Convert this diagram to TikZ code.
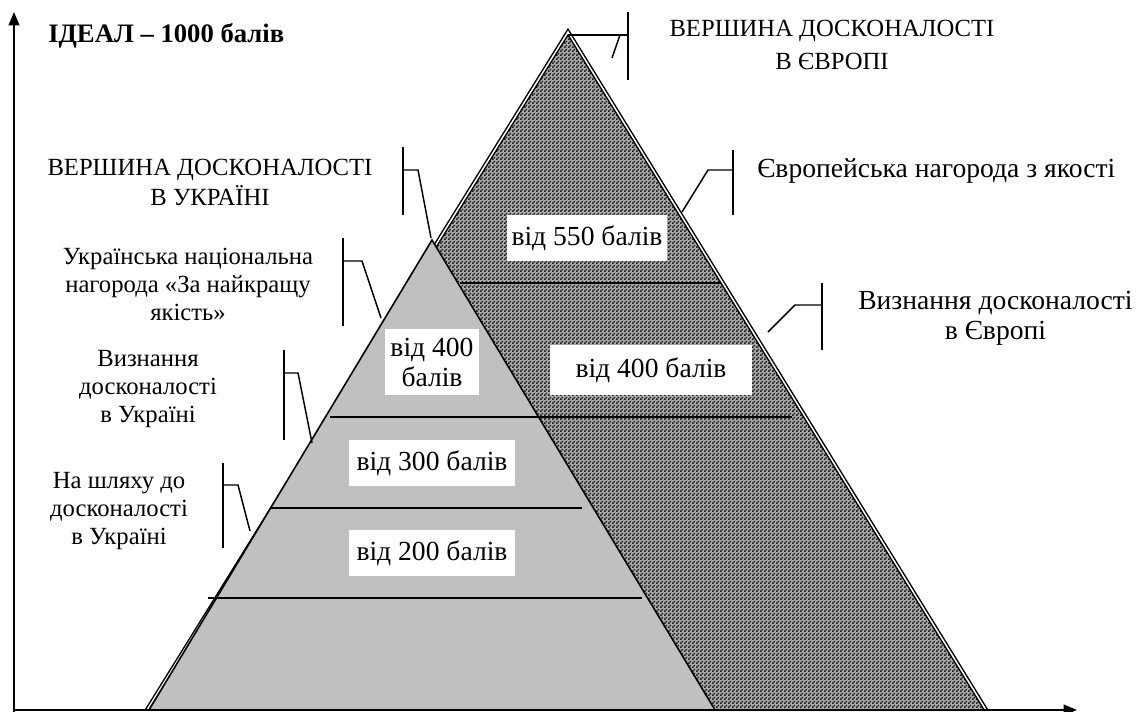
\documentclass[tikz,border=0pt]{standalone}
\usepackage{fontspec}
\setmainfont{Liberation Serif}
\usetikzlibrary{patterns.meta,arrows.meta}
\pgfdeclarepattern{
  name=finecheck,
  type=uncolored,
  bottom left={\pgfpoint{0pt}{0pt}},
  top right={\pgfpoint{3pt}{3pt}},
  tile size={\pgfpoint{3pt}{3pt}},
  code={
    \pgfpathrectangle{\pgfpointorigin}{\pgfpoint{1.5pt}{1.5pt}}
    \pgfpathrectangle{\pgfpoint{1.5pt}{1.5pt}}{\pgfpoint{1.5pt}{1.5pt}}
    \pgfusepath{fill}
  }
}
\definecolor{lightpyr}{RGB}{192,192,192}
\definecolor{darkbase}{RGB}{170,170,170}
\definecolor{darkdots}{RGB}{25,25,25}
\begin{document}
\begin{tikzpicture}[x=0.75pt,y=-0.75pt,
  lbl/.style={font=\fontsize{18.5}{21}\selectfont, align=center, inner sep=0pt},
  biglbl/.style={font=\fontsize{20.7}{22.5}\selectfont, align=center, inner sep=0pt},
  capslbl/.style={font=\fontsize{18.5}{22.5}\selectfont, align=center, inner sep=0pt},
  valbox/.style={fill=white, inner sep=0pt, font=\fontsize{20.7}{22.5}\selectfont, align=center},
  level/.style={line width=2.2pt},
  leader/.style={line width=1.1pt},
  axisline/.style={line width=1.5pt, -{Triangle[length=10pt,width=8pt]}},
  edge2/.style={line width=1.1pt, double=white, double distance=1.1pt, line join=miter}
]
\useasboundingbox (0,0) rectangle (1138,712);

% dark pyramid
\coordinate (dA) at (568,32);
\coordinate (dL) at (147,710);
\coordinate (dR) at (986,710);
\fill[darkbase] (dL) -- (dA) -- (dR) -- cycle;
\fill[pattern=finecheck, pattern color=darkdots] (dL) -- (dA) -- (dR) -- cycle;
\draw[edge2] (dL) -- (dA) -- (dR);

% light pyramid
\coordinate (lA) at (432,240);
\coordinate (lL) at (149,710);
\coordinate (lR) at (715,710);
\filldraw[fill=lightpyr, draw=black, line width=1.2pt, line join=miter] (lL) -- (lA) -- (lR) -- cycle;

% level lines
\coordinate (a1) at (460,283); \coordinate (a2) at (721,283);
\coordinate (b1) at (330,417); \coordinate (b2) at (792,417);
\coordinate (c1) at (270,508); \coordinate (c2) at (582,508);
\coordinate (e1) at (208,598); \coordinate (e2) at (642,598);
\draw[level] (a1) -- (a2);
\draw[level] (b1) -- (b2);
\draw[level] (c1) -- (c2);
\draw[level] (e1) -- (e2);

% value boxes
\node[valbox, minimum width=120pt, minimum height=35pt] (v550) at (587,238) {від 550 балів};
\node[valbox, minimum width=151.5pt, minimum height=37.5pt] (v400r) at (651,370) {від 400 балів};
\node[valbox, minimum width=71pt, minimum height=49pt] (v400l) at (432,362) {від 400\\балів};
\node[valbox, minimum width=124pt, minimum height=35pt] (v300) at (432,463) {від 300 балів};
\node[valbox, minimum width=124pt, minimum height=35pt] (v200) at (432,553) {від 200 балів};

% callouts
\coordinate (t1) at (628,12); \coordinate (t2) at (628,80);
\coordinate (th) at (628,35); \coordinate (tk) at (620,35); \coordinate (te) at (612,58);
\draw[leader] (t1) -- (t2);
\draw[leader] (dA |- th) -- (th);
\draw[leader] (tk) -- (te);
\coordinate (p1) at (403,147); \coordinate (p2) at (403,215);
\coordinate (ph) at (403,170); \coordinate (pk) at (418,170); \coordinate (pe) at (431,238);
\draw[leader] (p1) -- (p2);
\draw[leader] (ph) -- (pk) -- (pe);
\coordinate (q1) at (733,150); \coordinate (q2) at (733,215);
\coordinate (qh) at (733,170); \coordinate (qk) at (708,170); \coordinate (qe) at (682,212);
\draw[leader] (q1) -- (q2);
\draw[leader] (qh) -- (qk) -- (qe);
\coordinate (r1) at (822,283); \coordinate (r2) at (822,350);
\coordinate (rh) at (822,305); \coordinate (rk) at (795,305); \coordinate (re) at (768,332);
\draw[leader] (r1) -- (r2);
\draw[leader] (rh) -- (rk) -- (re);
\coordinate (s1) at (343,238); \coordinate (s2) at (343,326);
\coordinate (sh) at (343,261); \coordinate (sk) at (362,261); \coordinate (se) at (381,318);
\draw[leader] (s1) -- (s2);
\draw[leader] (sh) -- (sk) -- (se);
\coordinate (u1) at (284,350); \coordinate (u2) at (284,440);
\coordinate (uh) at (284,373); \coordinate (uk) at (298,373); \coordinate (ue) at (312,443);
\draw[leader] (u1) -- (u2);
\draw[leader] (uh) -- (uk) -- (ue);
\coordinate (w1) at (223,463); \coordinate (w2) at (223,548);
\coordinate (wh) at (223,485); \coordinate (wk) at (238,485); \coordinate (we) at (250,531);
\draw[leader] (w1) -- (w2);
\draw[leader] (wh) -- (wk) -- (we);

% texts
\node[font=\bfseries\fontsize{20}{22}\selectfont, anchor=base west, inner sep=0pt] (ideal) at (48,43) {ІДЕАЛ – 1000 балів};
\node[capslbl, font=\fontsize{18.5}{24.5}\selectfont] (peakEU) at (832,45) {ВЕРШИНА ДОСКОНАЛОСТІ\\В ЄВРОПІ};
\node[capslbl] (peakUA) at (210,182) {ВЕРШИНА ДОСКОНАЛОСТІ\\В УКРАЇНІ};
\node[lbl] (award) at (188,284) {Українська національна\\нагорода «За найкращу\\якість»};
\node[lbl] (recogUA) at (148,389) {Визнання\\досконалості\\в Україні};
\node[lbl] (road) at (119,511) {На шляху до\\досконалості\\в Україні};
\node[biglbl, anchor=west] (euAward) at (757,171) {Європейська нагорода з якості};
\node[biglbl, anchor=west] (recogEU) at (858,318) {Визнання досконалості\\в Європі};

% axes
\coordinate (o) at (14,712);
\coordinate (ytop) at (14,12);
\coordinate (ox) at (14,710);
\coordinate (xend) at (1077,710);
\draw[axisline] (o) -- (ytop);
\draw[axisline] (ox) -- (xend);
\end{tikzpicture}
\end{document}
